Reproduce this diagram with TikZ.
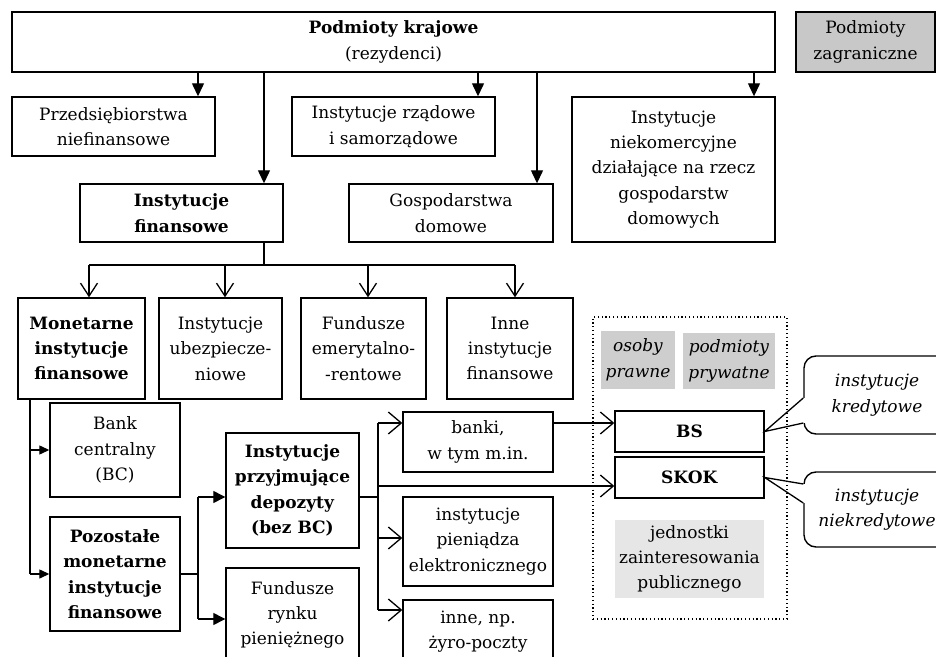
\documentclass[tikz,border=0pt]{standalone}
\usepackage{fontspec}
\setmainfont{DejaVu Serif}
\usetikzlibrary{arrows.meta}
\definecolor{zgray}{RGB}{200,200,200}
\definecolor{pgray}{RGB}{206,206,206}
\definecolor{lgray}{RGB}{230,230,230}
\begin{document}
\begin{tikzpicture}[x=0.5pt,y=-0.5pt,
  font=\fontsize{8.5}{12.7}\selectfont,
  box/.style={draw, line width=0.7pt, align=center, inner sep=0pt},
  plain/.style={align=center, inner sep=0pt},
  conn/.style={line width=0.65pt},
  bigtri/.style={conn, -{Triangle[width=6pt,length=6.5pt]}},
  smalltri/.style={conn, -{Triangle[width=4.5pt,length=5pt]}},
  medtri/.style={conn, -{Triangle[width=6pt,length=6pt]}},
  openv/.style={conn, -{Straight Barb[width=8.5pt,length=6.5pt]}},
  openbig/.style={conn, -{Straight Barb[width=11pt,length=6.5pt]}},
  callbox/.style={draw, line width=0.7pt, rounded corners=6pt, align=center, inner sep=0pt, fill=white, minimum width=73pt}
]
\useasboundingbox (0,0) rectangle (936,657);

% top level
\node[box, minimum width=381.5pt, minimum height=30pt] (top) at (393.5,42) {\textbf{Podmioty krajowe}\\(rezydenci)};
\node[box, fill=zgray, minimum width=69.5pt, minimum height=30pt] (zagr) at (865.5,42) {Podmioty\\zagraniczne};

\node[box, minimum width=101.5pt, minimum height=29.5pt] (przeds) at (113.5,126.5) {Przedsiębiorstwa\\niefinansowe};
\node[box, minimum width=101.5pt, minimum height=29.5pt] (rzad) at (393.5,126.5) {Instytucje rządowe\\i samorządowe};
\node[box, minimum width=101.5pt, minimum height=72.5pt] (niekom) at (673.5,169.5) {Instytucje\\niekomercyjne\\działające na rzecz\\gospodarstw\\domowych};
\node[box, minimum width=101.5pt, minimum height=29pt] (instfin) at (181.5,213) {\textbf{Instytucje}\\\textbf{finansowe}};
\node[box, minimum width=102pt, minimum height=29pt] (gosp) at (451,213) {Gospodarstwa\\domowe};

\coordinate (xa) at (198,0);
\coordinate (xb) at (264,0);
\coordinate (xc) at (478,0);
\coordinate (xd) at (537,0);
\coordinate (xe) at (754,0);
\draw[bigtri] (top.south -| xa) -- (przeds.north -| xa);
\draw[bigtri] (top.south -| xb) -- (instfin.north -| xb);
\draw[bigtri] (top.south -| xc) -- (rzad.north -| xc);
\draw[bigtri] (top.south -| xd) -- (gosp.north -| xd);
\draw[bigtri] (top.south -| xe) -- (niekom.north -| xe);

% financial institutions
\node[box, minimum width=63.5pt, minimum height=50.5pt] (monet) at (81.5,348.5) {\textbf{Monetarne}\\\textbf{instytucje}\\\textbf{finansowe}};
\node[box, minimum width=61.5pt, minimum height=50.5pt] (ubezp) at (220.5,348.5) {Instytucje\\ubezpiecze-\\niowe};
\node[box, minimum width=62.5pt, minimum height=50.5pt] (emer) at (363.5,348.5) {Fundusze\\emerytalno-\\-rentowe};
\node[box, minimum width=63pt, minimum height=50.5pt] (inne) at (510,348.5) {Inne\\instytucje\\finansowe};

\coordinate (bus) at (0,265);
\coordinate (xm) at (89,0);
\coordinate (xu) at (225,0);
\coordinate (xf) at (368,0);
\coordinate (xi) at (515,0);
\draw[conn] (instfin.south -| xb) -- (bus -| xb);
\draw[conn] (bus -| xm) -- (bus -| xi);
\draw[openv] (bus -| xm) -- (monet.north -| xm);
\draw[openv] (bus -| xu) -- (ubezp.north -| xu);
\draw[openv] (bus -| xf) -- (emer.north -| xf);
\draw[openv] (bus -| xi) -- (inne.north -| xi);

% monetary institutions
\node[box, minimum width=65pt, minimum height=47pt] (bank) at (115,450) {Bank\\centralny\\(BC)};
\node[box, minimum width=65pt, minimum height=57pt] (pozost) at (115,574) {\textbf{Pozostałe}\\\textbf{monetarne}\\\textbf{instytucje}\\\textbf{finansowe}};
\node[box, minimum width=66.5pt, minimum height=57.5pt] (przyj) at (292.5,490.5) {\textbf{Instytucje}\\\textbf{przyjmujące}\\\textbf{depozyty}\\\textbf{(bez BC)}};
\node[box, minimum width=66.5pt, minimum height=47pt] (fund) at (292.5,615) {Fundusze\\rynku\\pieniężnego};

\coordinate (xv) at (30,0);
\draw[conn] (monet.south -| xv) -- (pozost.west -| xv);
\draw[smalltri] (bank.west -| xv) -- (bank.west);
\draw[smalltri] (pozost.west -| xv) -- (pozost.west);

\coordinate (xw) at (198,0);
\coordinate (ya) at (0,497);
\coordinate (yb) at (0,619);
\draw[conn] (pozost.east) -- (pozost.east -| xw);
\draw[conn] (xw |- ya) -- (xw |- yb);
\draw[medtri] (xw |- ya) -- (przyj.west |- ya);
\draw[medtri] (xw |- yb) -- (fund.west |- yb);

% deposit-taking institutions
\node[box, minimum width=75pt, minimum height=30pt] (banki) at (478,442) {banki,\\w tym m.in.};
\node[box, minimum width=75pt, minimum height=44.5pt] (pien) at (478,541.5) {instytucje\\pieniądza\\elektronicznego};
\node[box, minimum width=75pt, minimum height=31.5pt] (innenp) at (478,631.5) {inne, np.\\żyro-poczty};

% group box
\node[draw, line width=0.6pt, dash pattern=on 0.6pt off 1.3pt, minimum width=97pt, minimum height=151pt, inner sep=0pt] (grp) at (690,468) {};
\node[plain, fill=pgray, minimum width=37pt, minimum height=29pt] (osoby) at (638,360) {\textit{osoby}\\\textit{prawne}};
\node[plain, fill=pgray, minimum width=46pt, minimum height=28pt] (podm) at (729,361) {\textit{podmioty}\\\textit{prywatne}};
\node[box, minimum width=74.5pt, minimum height=20.5pt] (bs) at (689.5,431.5) {\textbf{BS}};
\node[box, minimum width=74.5pt, minimum height=20.5pt] (skok) at (689.5,477.5) {\textbf{SKOK}};
\node[plain, fill=lgray, minimum width=74.5pt, minimum height=39pt] (jedn) at (689.5,559) {jednostki\\zainteresowania\\publicznego};

\coordinate (xs) at (378,0);
\coordinate (y1) at (0,423);
\coordinate (y2) at (0,538);
\coordinate (y3) at (0,610);
\coordinate (y4) at (0,486);
\draw[conn] (przyj.east |- ya) -- (xs |- ya);
\draw[conn] (xs |- y1) -- (xs |- y3);
\draw[openbig] (xs |- y1) -- (banki.west |- y1);
\draw[openbig] (xs |- y2) -- (pien.west |- y2);
\draw[openbig] (xs |- y3) -- (innenp.west |- y3);
\draw[openbig] (xs |- y4) -- (skok.west |- y4);
\draw[openbig] (banki.east |- y1) -- (bs.west |- y1);

% callouts
\node[callbox, minimum height=39pt] (k1) at (877,395) {\textit{instytucje}\\\textit{kredytowe}};
\node[callbox, minimum height=37.5pt] (k2) at (877,509.5) {\textit{instytucje}\\\textit{niekredytowe}};
\coordinate (k1a) at (0,398);
\coordinate (k1b) at (0,423);
\coordinate (k2a) at (0,484);
\coordinate (k2b) at (0,503);
\fill[white] ([xshift=-1pt]k1.west |- k1a) rectangle ([xshift=1pt]k1.west |- k1b);
\fill[white] ([xshift=-1pt]k2.west |- k2a) rectangle ([xshift=1pt]k2.west |- k2b);
\draw[conn] (k1.west |- k1a) -- (bs.east) -- (k1.west |- k1b);
\draw[conn] (k2.west |- k2a) -- (skok.east) -- (k2.west |- k2b);
\end{tikzpicture}
\end{document}
